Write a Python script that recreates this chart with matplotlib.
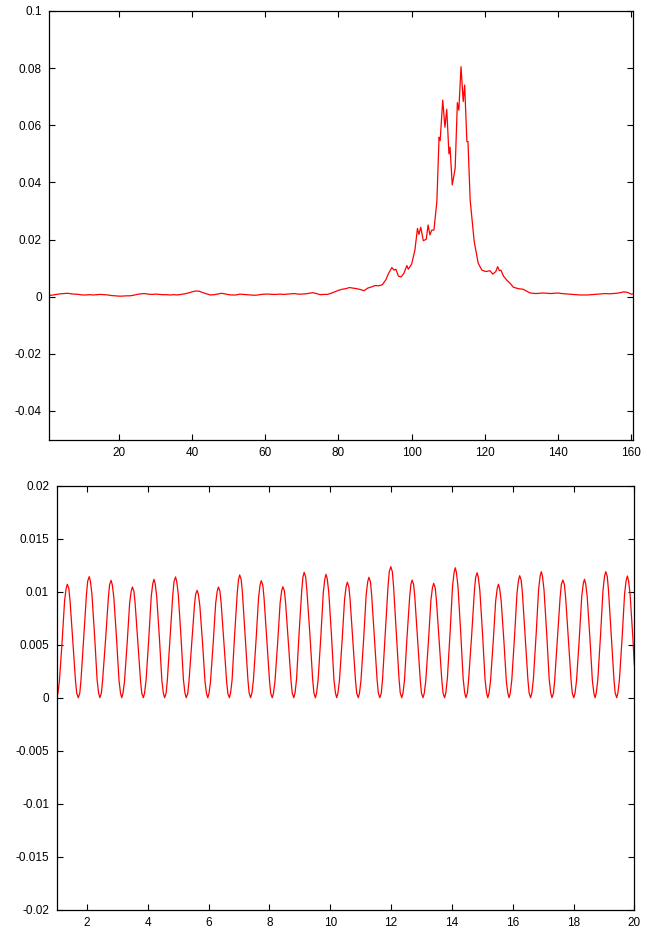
#!/usr/bin/env python3
"""
Dos paneles estilo gnuplot: arriba un pico ruidoso, abajo una señal oscilante.
"""

import matplotlib
matplotlib.use("Agg")
import matplotlib.pyplot as plt
from matplotlib.ticker import FormatStrFormatter, MultipleLocator

# --- DATOS ---
# Panel superior
top_x = [
    1, 2, 3, 4, 5, 6, 7, 8, 9, 10, 11, 12, 13, 14, 15, 16, 17, 18, 19, 20,
    21, 22, 23, 24, 25, 26, 27, 28, 29, 30, 31, 32, 33, 34, 35, 36, 37, 38, 39, 40,
    41, 42, 43, 44, 45, 46, 47, 48, 49, 50, 51, 52, 53, 54, 55, 56, 57, 58, 59, 60,
    61, 62, 63, 64, 65, 66, 67, 68, 69, 70, 71, 72, 73, 74, 75, 76, 77, 78, 79, 80,
    81, 82, 83, 84, 85, 86, 87, 88, 89, 90, 91, 92, 93, 93.6, 94.6, 95.2, 95.7,
    96.4, 97.1, 97.9, 98.7, 99.1, 100.0, 100.9, 101.6, 102.0, 102.5, 103.2, 104.0,
    104.5, 105.0, 105.5, 106.1, 106.9, 107.5, 107.8, 108.5, 109.1, 109.6, 110.2,
    110.5, 111.1, 111.9, 112.5, 112.9, 113.5, 114.1, 114.5, 115.1, 115.4, 116.0,
    117.1, 118.2, 119.2, 120.3, 121.4, 122.2, 123.0, 123.5, 124.0, 124.4, 125.1,
    126.0, 126.9, 127.8, 129.2, 130.5, 132.2, 133, 134, 135, 136, 137, 138, 139,
    140, 141, 142, 143, 144, 145, 146, 147, 148, 149, 150, 151, 152, 153, 154,
    155, 156, 157, 158, 159, 160, 160.5,
]
top_y = [
    0.0004, 0.0006, 0.0008, 0.0010, 0.0011, 0.0012, 0.0010, 0.0009, 0.0008, 0.0006,
    0.0006, 0.0007, 0.0006, 0.0007, 0.0008, 0.0007, 0.0006, 0.0004, 0.0003, 0.0002,
    0.0002, 0.0003, 0.0003, 0.0005, 0.0008, 0.0010, 0.0011, 0.0009, 0.0008, 0.0009,
    0.0008, 0.0007, 0.0007, 0.0006, 0.0007, 0.0006, 0.0008, 0.0010, 0.0013, 0.0017,
    0.0020, 0.0019, 0.0014, 0.0010, 0.0006, 0.0007, 0.0009, 0.0012, 0.0010, 0.0007,
    0.0006, 0.0006, 0.0009, 0.0008, 0.0007, 0.0006, 0.0005, 0.0006, 0.0008, 0.0009,
    0.0009, 0.0008, 0.0008, 0.0009, 0.0008, 0.0009, 0.0010, 0.0011, 0.0009, 0.0009,
    0.0010, 0.0012, 0.0014, 0.0011, 0.0007, 0.0008, 0.0008, 0.0012, 0.0017, 0.0022,
    0.0026, 0.0028, 0.0032, 0.0030, 0.0028, 0.0025, 0.0021, 0.0030, 0.0034, 0.0039,
    0.0038, 0.0042, 0.0060, 0.0079, 0.0102, 0.0093, 0.0096,
    0.0072, 0.0069, 0.0082, 0.0109, 0.0096, 0.0114, 0.0163, 0.0239, 0.0218, 0.0243,
    0.0196, 0.0201, 0.0251, 0.0216, 0.0233, 0.0233, 0.0333, 0.0558, 0.0546, 0.0688,
    0.0593, 0.0656, 0.0500, 0.0523, 0.0391, 0.0449, 0.0679, 0.0653, 0.0805, 0.0683,
    0.0741, 0.0543, 0.0543, 0.0338, 0.0193, 0.0117, 0.0093, 0.0088, 0.0091, 0.0079,
    0.0088, 0.0105, 0.0091, 0.0093, 0.0072, 0.0058, 0.0047, 0.0033, 0.0028, 0.0026,
    0.0014, 0.0012, 0.0011, 0.0012, 0.0013, 0.0012, 0.0011, 0.0012, 0.0013, 0.0011,
    0.0010, 0.0009, 0.0008, 0.0007, 0.0006, 0.0006, 0.0006, 0.0007, 0.0008, 0.0009,
    0.0010, 0.0011, 0.0010, 0.0011, 0.0012, 0.0014, 0.0017, 0.0015, 0.0009, 0.0010,
]

# Panel inferior: una fila por oscilación (subida, pico, bajada, valle)
wave_x = [
    1.00,
    1.04, 1.09, 1.18, 1.26, 1.31, 1.35, 1.40, 1.44, 1.53, 1.62, 1.66, 1.71,
    1.76, 1.80, 1.89, 1.98, 2.02, 2.07, 2.11, 2.16, 2.25, 2.33, 2.38, 2.42,
    2.47, 2.51, 2.61, 2.70, 2.74, 2.79, 2.83, 2.88, 2.97, 3.05, 3.10, 3.14,
    3.18, 3.23, 3.32, 3.40, 3.45, 3.49, 3.54, 3.58, 3.67, 3.76, 3.80, 3.85,
    3.89, 3.94, 4.03, 4.11, 4.16, 4.20, 4.24, 4.29, 4.38, 4.46, 4.51, 4.55,
    4.60, 4.64, 4.73, 4.82, 4.86, 4.91, 4.95, 5.00, 5.09, 5.17, 5.22, 5.26,
    5.31, 5.35, 5.44, 5.53, 5.57, 5.62, 5.66, 5.71, 5.80, 5.88, 5.93, 5.97,
    6.01, 6.06, 6.15, 6.23, 6.28, 6.32, 6.37, 6.41, 6.50, 6.59, 6.63, 6.68,
    6.72, 6.77, 6.85, 6.94, 6.98, 7.02, 7.07, 7.11, 7.20, 7.29, 7.33, 7.38,
    7.42, 7.47, 7.56, 7.64, 7.69, 7.73, 7.78, 7.82, 7.91, 8.00, 8.04, 8.09,
    8.13, 8.18, 8.27, 8.35, 8.40, 8.44, 8.49, 8.53, 8.62, 8.71, 8.75, 8.80,
    8.84, 8.89, 8.97, 9.06, 9.10, 9.14, 9.19, 9.23, 9.33, 9.42, 9.46, 9.51,
    9.55, 9.60, 9.69, 9.77, 9.82, 9.86, 9.90, 9.95, 10.04, 10.12, 10.17, 10.21,
    10.25, 10.30, 10.39, 10.47, 10.52, 10.56, 10.61, 10.65, 10.74, 10.83, 10.87, 10.92,
    10.96, 11.01, 11.10, 11.18, 11.23, 11.27, 11.32, 11.36, 11.45, 11.54, 11.58, 11.63,
    11.68, 11.72, 11.81, 11.90, 11.94, 11.99, 12.04, 12.08, 12.17, 12.26, 12.30, 12.35,
    12.39, 12.44, 12.52, 12.61, 12.65, 12.69, 12.74, 12.78, 12.87, 12.96, 13.00, 13.05,
    13.09, 13.14, 13.23, 13.31, 13.36, 13.40, 13.45, 13.49, 13.58, 13.67, 13.71, 13.76,
    13.80, 13.85, 13.94, 14.02, 14.07, 14.11, 14.15, 14.20, 14.29, 14.37, 14.42, 14.46,
    14.51, 14.55, 14.65, 14.74, 14.78, 14.83, 14.87, 14.92, 15.01, 15.09, 15.14, 15.18,
    15.22, 15.27, 15.36, 15.44, 15.49, 15.53, 15.57, 15.62, 15.71, 15.79, 15.84, 15.88,
    15.92, 15.97, 16.06, 16.14, 16.19, 16.23, 16.28, 16.32, 16.41, 16.50, 16.54, 16.59,
    16.63, 16.68, 16.77, 16.85, 16.90, 16.94, 16.98, 17.03, 17.12, 17.20, 17.25, 17.29,
    17.34, 17.38, 17.47, 17.56, 17.60, 17.65, 17.70, 17.74, 17.83, 17.92, 17.96, 18.01,
    18.05, 18.10, 18.19, 18.27, 18.32, 18.36, 18.40, 18.45, 18.54, 18.62, 18.67, 18.71,
    18.75, 18.80, 18.89, 18.97, 19.02, 19.06, 19.11, 19.15, 19.24, 19.33, 19.37, 19.42,
    19.46, 19.51, 19.60, 19.68, 19.73, 19.77, 19.81, 19.86, 19.95, 20.00,
]
wave_y = [
    0.0,
    0.00041, 0.00156, 0.00535, 0.00914, 0.01029, 0.01070, 0.01029, 0.00914, 0.00535, 0.00156, 0.00041, 0.0,
    0.00043, 0.00167, 0.00571, 0.00975, 0.01099, 0.01142, 0.01099, 0.00975, 0.00571, 0.00167, 0.00043, 0.0,
    0.00042, 0.00162, 0.00554, 0.00945, 0.01065, 0.01107, 0.01065, 0.00945, 0.00554, 0.00162, 0.00042, 0.0,
    0.00040, 0.00152, 0.00522, 0.00892, 0.01004, 0.01044, 0.01004, 0.00892, 0.00522, 0.00152, 0.00040, 0.0,
    0.00042, 0.00163, 0.00559, 0.00954, 0.01075, 0.01117, 0.01075, 0.00954, 0.00559, 0.00163, 0.00042, 0.0,
    0.00043, 0.00166, 0.00570, 0.00973, 0.01096, 0.01139, 0.01096, 0.00973, 0.00570, 0.00166, 0.00043, 0.0,
    0.00038, 0.00148, 0.00507, 0.00865, 0.00975, 0.01013, 0.00975, 0.00865, 0.00507, 0.00148, 0.00038, 0.0,
    0.00040, 0.00152, 0.00522, 0.00892, 0.01004, 0.01044, 0.01004, 0.00892, 0.00522, 0.00152, 0.00040, 0.0,
    0.00044, 0.00169, 0.00579, 0.00989, 0.01114, 0.01158, 0.01114, 0.00989, 0.00579, 0.00169, 0.00044, 0.0,
    0.00042, 0.00161, 0.00552, 0.00943, 0.01062, 0.01104, 0.01062, 0.00943, 0.00552, 0.00161, 0.00042, 0.0,
    0.00040, 0.00153, 0.00524, 0.00894, 0.01007, 0.01047, 0.01007, 0.00894, 0.00524, 0.00153, 0.00040, 0.0,
    0.00045, 0.00173, 0.00592, 0.01010, 0.01138, 0.01183, 0.01138, 0.01010, 0.00592, 0.00173, 0.00045, 0.0,
    0.00044, 0.00170, 0.00582, 0.00994, 0.01120, 0.01164, 0.01120, 0.00994, 0.00582, 0.00170, 0.00044, 0.0,
    0.00041, 0.00159, 0.00545, 0.00930, 0.01048, 0.01089, 0.01048, 0.00930, 0.00545, 0.00159, 0.00041, 0.0,
    0.00043, 0.00166, 0.00568, 0.00970, 0.01093, 0.01136, 0.01093, 0.00970, 0.00568, 0.00166, 0.00043, 0.0,
    0.00047, 0.00180, 0.00618, 0.01056, 0.01189, 0.01236, 0.01189, 0.01056, 0.00618, 0.00180, 0.00047, 0.0,
    0.00042, 0.00162, 0.00555, 0.00948, 0.01068, 0.01110, 0.01068, 0.00948, 0.00555, 0.00162, 0.00042, 0.0,
    0.00041, 0.00158, 0.00540, 0.00921, 0.01038, 0.01079, 0.01038, 0.00921, 0.00540, 0.00158, 0.00041, 0.0,
    0.00047, 0.00179, 0.00613, 0.01047, 0.01179, 0.01226, 0.01179, 0.01047, 0.00613, 0.00179, 0.00047, 0.0,
    0.00045, 0.00172, 0.00590, 0.01007, 0.01134, 0.01179, 0.01134, 0.01007, 0.00590, 0.00172, 0.00045, 0.0,
    0.00041, 0.00156, 0.00535, 0.00914, 0.01029, 0.01070, 0.01029, 0.00914, 0.00535, 0.00156, 0.00041, 0.0,
    0.00044, 0.00168, 0.00576, 0.00983, 0.01107, 0.01151, 0.01107, 0.00983, 0.00576, 0.00168, 0.00044, 0.0,
    0.00045, 0.00174, 0.00595, 0.01015, 0.01144, 0.01189, 0.01144, 0.01015, 0.00595, 0.00174, 0.00045, 0.0,
    0.00042, 0.00162, 0.00555, 0.00948, 0.01068, 0.01110, 0.01068, 0.00948, 0.00555, 0.00162, 0.00042, 0.0,
    0.00042, 0.00163, 0.00559, 0.00954, 0.01075, 0.01117, 0.01075, 0.00954, 0.00559, 0.00163, 0.00042, 0.0,
    0.00045, 0.00174, 0.00595, 0.01015, 0.01144, 0.01189, 0.01144, 0.01015, 0.00595, 0.00174, 0.00045, 0.0,
    0.00044, 0.00168, 0.00574, 0.00980, 0.01104, 0.01148, 0.01104, 0.00980, 0.00574, 0.00310,
]

# Ejes
TOP_XLIM = (1, 160.5)
TOP_YLIM = (-0.05, 0.1)
TOP_XTICKS = [20, 40, 60, 80, 100, 120, 140, 160]
BOT_XLIM = (1, 20)
BOT_YLIM = (-0.02, 0.02)
BOT_XTICKS = [2, 4, 6, 8, 10, 12, 14, 16, 18, 20]

plt.rcParams["font.family"] = ["Liberation Sans", "DejaVu Sans"]
plt.rcParams["axes.unicode_minus"] = False


def style_axes(ax):
    for s in ax.spines.values():
        s.set_linewidth(0.9)
        s.set_color("black")
    ax.tick_params(direction="in", length=4, width=0.8, top=True, right=True,
                   labelsize=8.5, pad=5.5, colors="black")
    ax.yaxis.set_major_formatter(FormatStrFormatter("%g"))
    ax.xaxis.set_major_formatter(FormatStrFormatter("%g"))


fig = plt.figure(figsize=(6.47, 9.38), dpi=100)

ax1 = fig.add_axes([0.0762, 0.5314, 0.9022, 0.4569])
ax1.plot(top_x, top_y, color="red", lw=0.9)
ax1.set_xlim(*TOP_XLIM)
ax1.set_ylim(*TOP_YLIM)
ax1.set_xticks(TOP_XTICKS)
ax1.yaxis.set_major_locator(MultipleLocator(0.02))
style_axes(ax1)

ax2 = fig.add_axes([0.0876, 0.0302, 0.8928, 0.4520])
ax2.plot(wave_x, wave_y, color="red", lw=0.9)
ax2.set_xlim(*BOT_XLIM)
ax2.set_ylim(*BOT_YLIM)
ax2.set_xticks(BOT_XTICKS)
ax2.yaxis.set_major_locator(MultipleLocator(0.005))
style_axes(ax2)

fig.savefig("out.png", dpi=100)
